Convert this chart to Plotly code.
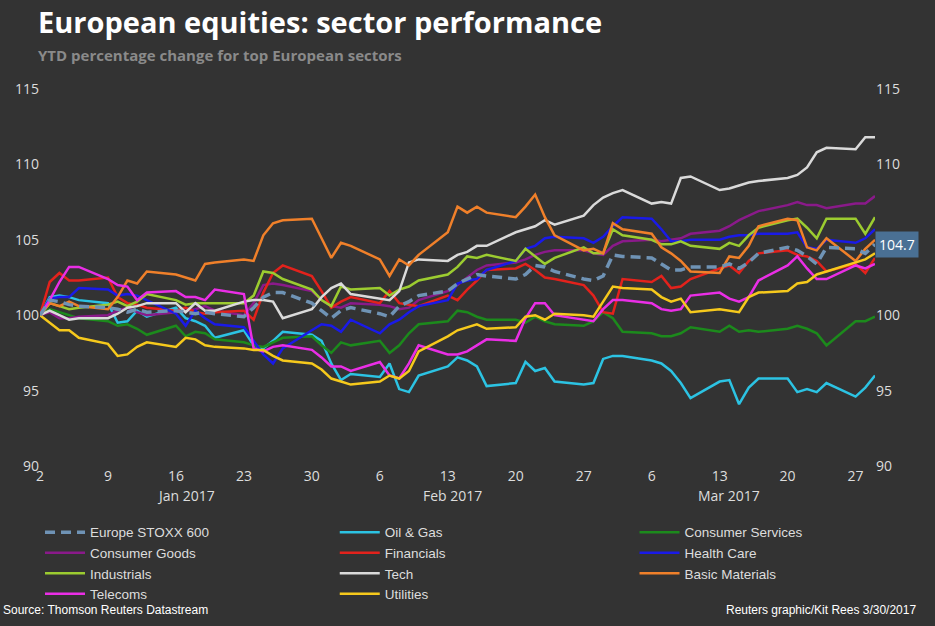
import plotly.graph_objects as go
import pandas as pd

dates = pd.bdate_range("2017-01-02", "2017-03-29")

stoxx = [100, 101, 100.9, 100.7, 100.6, 100.5, 100.4, 100.2, 100.4, 100.2, 100.3, 100.2, 100.1, 100.2, 100.1,
         99.9, 100.5, 101.2, 101.5, 101.5, 100.8, 100.3, 99.8, 100.3, 100.5, 100.1, 99.9, 100.6, 100.9, 101.3,
         101.6, 102.1, 102.4, 102.7, 102.6, 102.4, 102.7, 103.3, 103.2, 102.9, 102.4, 102.3, 102.6, 104.0, 103.9,
         103.8, 103.4, 103.0, 103.0, 103.2, 103.2, 103.4, 103.1, 103.5, 104.1, 104.5, 104.3, 103.9, 103.4, 104.5,
         104.4, 104.1, 104.7]
oil_gas = [100, 101.2, 101.3, 101.2, 101.0, 100.8, 99.5, 99.6, 100.3, 99.9, 100.5, 99.8, 99.6, 99.3, 98.5,
           99.0, 98.0, 97.8, 98.3, 98.9, 98.7, 98.3, 96.8, 95.7, 96.1, 95.9, 96.8, 95.1, 94.9, 96.0,
           96.6, 97.2, 97.0, 96.6, 95.3, 95.5, 96.9, 96.3, 96.5, 95.6, 95.4, 95.5, 97.1, 97.3, 97.3,
           97.0, 96.8, 96.3, 95.5, 94.5, 95.6, 95.7, 94.1, 95.2, 95.8, 95.8, 94.9, 95.1, 94.9, 95.5,
           94.6, 95.2, 96.0]
cons_serv = [100, 100.4, 100.2, 100.0, 99.8, 99.6, 99.3, 99.4, 99.1, 98.7, 99.3, 98.6, 98.9, 98.8, 98.4,
             98.2, 98.0, 97.9, 98.2, 98.5, 98.6, 98.0, 97.5, 98.2, 98.0, 98.3, 97.5, 98.0, 98.8, 99.4,
             99.6, 100.3, 100.2, 99.9, 99.7, 99.7, 99.5, 99.9, 99.6, 99.4, 99.3, 99.6, 100.2, 99.8, 98.9,
             98.8, 98.6, 98.6, 98.8, 99.2, 98.9, 99.3, 98.9, 99.0, 98.9, 99.1, 99.3, 99.1, 98.8, 98.0,
             99.6, 99.6, 99.9]
cons_goods = [100, 100.2, 99.8, 99.8, 99.9, 100.0, 100.3, 100.5, 100.2, 100.0, 100.2, 100.3, 100.4, 100.6, 100.3,
              100.0, 100.8, 102.0, 102.1, 102.0, 101.6, 101.0, 100.6, 100.5, 100.8, 100.7, 100.6, 100.4, 100.5, 101.0,
              101.6, 102.0, 102.5, 103.0, 103.3, 103.5, 103.7, 104.0, 104.2, 104.3, 104.3, 104.1, 104.0, 104.6, 104.9,
              105.0, 104.9, 105.0, 105.1, 105.4, 105.6, 105.9, 106.3, 106.6, 106.9, 107.3, 107.5, 107.3, 107.3, 107.1,
              107.4, 107.4, 107.9]
financials = [100, 102.2, 102.8, 102.3, 102.3, 102.5, 101.2, 100.8, 100.7, 100.5, 100.3, 100.5, 100.2, 100.1, 100.2,
              100.3, 99.7, 101.5, 102.8, 103.3, 102.6, 101.6, 100.5, 100.9, 101.2, 100.8, 101.6, 100.8, 100.7, 100.6,
              101.3, 101.0, 101.7, 102.3, 103.0, 103.1, 103.4, 103.0, 102.5, 102.4, 102.0, 101.3, 100.2, 100.1, 102.4,
              102.2, 102.6, 101.8, 101.9, 102.4, 103.1, 103.3, 102.8, 103.6, 104.1, 104.3, 104.0, 103.9, 103.6, 102.9,
              103.4, 102.8, 103.8]
health = [100, 101.1, 101.2, 101.2, 101.8, 101.7, 101.3, 101.4, 101.3, 101.0, 100.1, 99.3, 100.3, 99.8, 99.4,
          99.2, 98.3, 97.4, 96.8, 97.8, 99.0, 99.4, 99.3, 98.9, 99.7, 98.8, 99.4, 99.7, 100.2, 100.6,
          101.0, 102.1, 102.3, 102.4, 103.0, 103.6, 104.4, 104.6, 105.1, 105.2, 105.1, 104.8, 105.2, 105.9, 106.5,
          106.4, 105.7, 104.9, 104.9, 105.0, 105.0, 105.2, 105.3, 105.3, 105.4, 105.4, 105.5, 104.5, 104.4, 105.0,
          104.8, 105.1, 105.7]
industrials = [100, 100.8, 100.6, 100.4, 100.5, 100.7, 100.9, 100.6, 100.9, 101.4, 101.0, 100.7, 100.8, 100.8, 100.8,
               100.8, 101.3, 102.9, 102.8, 102.4, 101.7, 101.0, 100.6, 101.9, 101.7, 101.8, 101.3, 101.7, 101.9, 102.3,
               102.7, 103.2, 103.9, 103.8, 104.0, 103.6, 104.4, 103.9, 103.4, 103.8, 104.5, 104.1, 104.1, 105.7, 105.3,
               105.0, 104.7, 104.7, 104.9, 104.6, 104.4, 104.8, 104.6, 105.3, 105.8, 106.3, 106.4, 105.8, 105.1, 106.4,
               106.4, 105.4, 106.5]
tech = [100, 100.3, 100.0, 99.7, 99.8, 99.8, 100.1, 100.5, 100.6, 100.8, 100.8, 100.2, 100.8, 100.3, 100.3,
        100.9, 101.0, 101.0, 100.9, 99.8, 100.4, 101.2, 101.8, 102.1, 101.4, 101.1, 101.0, 101.6, 103.5, 103.7,
        103.6, 104.0, 104.2, 104.6, 104.6, 105.5, 105.7, 105.9, 106.3, 106.0, 106.6, 107.3, 107.8, 108.1, 108.3,
        107.4, 107.5, 107.4, 109.1, 109.2, 108.3, 108.4, 108.6, 108.8, 108.9, 109.1, 109.3, 109.8, 110.8, 111.1,
        111.0, 111.8, 111.8]
basic = [100, 100.8, 100.6, 100.9, 100.6, 100.4, 101.2, 102.3, 102.1, 102.9, 102.7, 102.5, 102.3, 103.4, 103.5,
         103.7, 103.6, 105.3, 106.1, 106.3, 106.4, 105.1, 103.8, 104.8, 104.6, 103.7, 102.6, 103.7, 103.3, 104.0,
         105.5, 107.2, 106.8, 107.2, 106.8, 106.5, 107.2, 108.0, 106.5, 105.3, 104.3, 104.4, 104.1, 106.1, 105.7,
         105.4, 104.5, 104.1, 103.6, 102.9, 102.8, 103.9, 103.8, 104.6, 105.9, 106.4, 106.3, 104.5, 104.3, 105.1,
         103.6, 104.4, 105.0]
telecoms = [100, 101.0, 102.2, 103.2, 103.2, 102.4, 102.0, 101.9, 101.0, 101.5, 101.6, 101.2, 101.2, 101.0, 101.7,
            101.4, 97.8, 97.6, 97.9, 98.0, 97.7, 97.2, 96.6, 96.6, 96.3, 96.9, 96.0, 95.8, 96.8, 98.0,
            97.4, 97.4, 97.6, 98.0, 98.4, 98.3, 99.8, 100.8, 100.8, 100.0, 99.7, 99.6, 100.4, 101.0, 101.0,
            100.8, 100.4, 100.3, 100.4, 101.3, 101.5, 101.1, 100.9, 101.2, 102.3, 103.3, 103.9, 103.1, 102.4, 102.4,
            103.3, 103.1, 103.4]
utilities = [100, 99.5, 99.0, 99.0, 98.5, 98.1, 97.3, 97.4, 97.9, 98.2, 97.9, 98.5, 98.4, 98.0, 97.9,
             97.8, 97.7, 97.7, 97.3, 97.0, 96.8, 96.4, 95.8, 95.6, 95.4, 95.6, 96.0, 95.8, 96.3, 97.6,
             98.6, 99.0, 99.2, 99.4, 99.1, 99.2, 99.9, 100.0, 99.7, 100.1, 100.0, 99.9, 100.9, 101.9, 101.8,
             101.7, 101.2, 100.9, 101.1, 100.2, 100.4, 100.3, 100.2, 101.2, 101.5, 101.6, 102.1, 102.2, 102.7, 102.9,
             103.5, 103.7, 104.1]

names = ["Europe STOXX 600", "Oil & Gas", "Consumer Services", "Consumer Goods", "Financials",
         "Health Care", "Industrials", "Tech", "Basic Materials", "Telecoms", "Utilities"]
series = [stoxx, oil_gas, cons_serv, cons_goods, financials, health, industrials, tech, basic, telecoms, utilities]
colors = ["#6f93b5", "#2cc3e3", "#1c8a1c", "#8a1a8a", "#e3221c", "#1a1ae8", "#9ccc30", "#dadada",
          "#f0802a", "#ea2ee6", "#f6c91c"]

tick_dates = ["2017-01-02", "2017-01-09", "2017-01-16", "2017-01-23", "2017-01-30", "2017-02-06", "2017-02-13",
              "2017-02-20", "2017-02-27", "2017-03-06", "2017-03-13", "2017-03-20", "2017-03-27"]
tick_labels = ["2", "9", "16", "23", "30", "6", "13", "20", "27", "6", "13", "20", "27"]
months = ["Jan 2017", "Feb 2017", "Mar 2017"]
month_pos = ["2017-01-17", "2017-02-13 12:00", "2017-03-14"]

legend_ids = ["legend", "legend2", "legend3"]
fig = go.Figure()
order = list(range(1, 11)) + [0]
for i in order:
    fig.add_trace(go.Scatter(
        x=dates, y=series[i], name=names[i], mode="lines", legendrank=i + 1, legend=legend_ids[i % 3],
        line=dict(color=colors[i], width=3.5 if i == 0 else 2.5, dash="10px,6px" if i == 0 else "solid")))
fig.add_trace(go.Scatter(x=[dates[0]], y=[100], yaxis="y2", showlegend=False, mode="markers",
                         marker=dict(opacity=0), hoverinfo="skip"))

for m, p in zip(months, month_pos):
    fig.add_annotation(x=p, y=-0.109, yref="paper", text=m, showarrow=False,
                       font=dict(size=14, color="#dddddd"))
fig.add_annotation(x=1.0, xref="paper", xanchor="left", y=stoxx[-1], text=f"{stoxx[-1]}", showarrow=False,
                   bgcolor="#4a7094", font=dict(size=14, color="#ffffff"), borderpad=3)
fig.add_annotation(x=-0.047, xref="paper", xanchor="left", y=-0.382, yref="paper", yanchor="middle",
                   text="Source: Thomson Reuters Datastream", showarrow=False,
                   font=dict(size=12, color="#ffffff", family="Liberation Sans"))
fig.add_annotation(x=1.051, xref="paper", xanchor="right", y=-0.382, yref="paper", yanchor="middle",
                   text="Reuters graphic/Kit Rees 3/30/2017", showarrow=False,
                   font=dict(size=12, color="#ffffff", family="Liberation Sans"))
fig.add_annotation(x=-0.005, xref="paper", xanchor="left", y=1.18, yref="paper", yanchor="middle",
                   text="<b>European equities: sector performance</b>", showarrow=False,
                   font=dict(size=29, color="#ffffff"))
fig.add_annotation(x=-0.005, xref="paper", xanchor="left", y=1.09, yref="paper", yanchor="middle",
                   text="<b>YTD percentage change for top European sectors</b>", showarrow=False,
                   font=dict(size=15, color="#8a8a8a"))

leg_common = dict(yanchor="top", xanchor="left", y=-0.135, tracegroupgap=0, bgcolor="rgba(0,0,0,0)",
                  itemwidth=40, font=dict(size=13.5, color="#dddddd", family="Liberation Sans"))
fig.update_layout(
    width=935, height=626, paper_bgcolor="#333333", plot_bgcolor="#333333",
    margin=dict(l=40, r=60, t=89, b=160, autoexpand=False),
    font=dict(family="Open Sans", color="#dddddd"),
    xaxis=dict(range=[dates[0], dates[-1]], tickvals=tick_dates, ticktext=tick_labels, showgrid=False,
               zeroline=False, tickfont=dict(size=14, color="#dddddd"), ticks=""),
    yaxis=dict(range=[90, 115], dtick=5, showgrid=False, zeroline=False, tickfont=dict(size=14, color="#dddddd")),
    yaxis2=dict(range=[90, 115], dtick=5, showgrid=False, zeroline=False, overlaying="y", side="right",
                tickfont=dict(size=14, color="#dddddd")),
    legend=dict(x=0.0, **leg_common),
    legend2=dict(x=0.353, **leg_common),
    legend3=dict(x=0.712, **leg_common),
    showlegend=True,
)
fig.write_html("out.html", config={"displayModeBar": False},
               post_script="document.body.style.margin='0';document.body.style.background='#333333';")
